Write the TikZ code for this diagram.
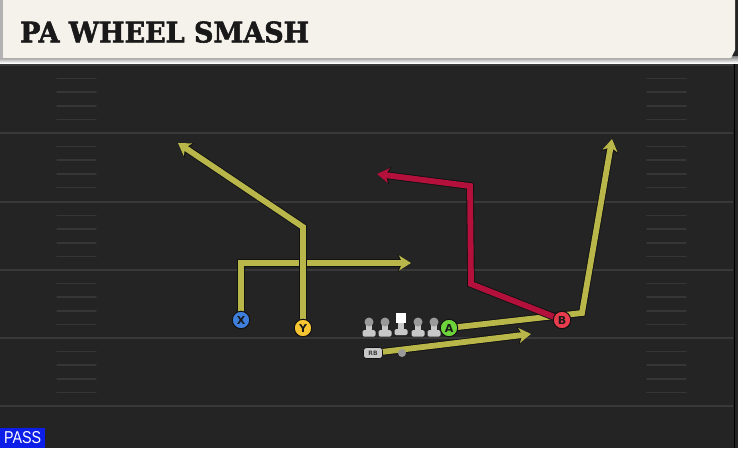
\documentclass[tikz,border=0pt]{standalone}
\usepackage{fontspec}
\usepackage{graphicx}
\setmainfont{DejaVu Sans}
\newfontfamily\titlefont{DejaVu Serif}[BoldFeatures={FakeBold=2}]
\newfontfamily\passfont{Liberation Sans}
\usetikzlibrary{arrows.meta}
\definecolor{field}{HTML}{242424}
\definecolor{yardc}{HTML}{393939}
\definecolor{hashc}{HTML}{363636}
\definecolor{cream}{HTML}{F5F2EB}
\definecolor{shade}{HTML}{1A1A1A}
\definecolor{routeY}{HTML}{B9B64A}
\definecolor{routeR}{HTML}{B3103C}
\definecolor{outl}{HTML}{121212}
\definecolor{plX}{HTML}{3D7FDB}
\definecolor{plY}{HTML}{F7C531}
\definecolor{plA}{HTML}{6DD33B}
\definecolor{plB}{HTML}{E83B4B}
\definecolor{lmgrey}{HTML}{C8C8C8}
\definecolor{lmhead}{HTML}{9A9A9A}
\definecolor{passblue}{HTML}{0C1EE8}
\tikzset{
  yard/.style={draw=yardc, line width=2pt},
  hash/.style={draw=hashc, line width=1.5pt, line cap=round},
  route/.style={line width=5.8pt,
    -{Stealth[length=12pt,width=15pt,inset=3.5pt]},
    preaction={draw=outl, line width=7.6pt, -{Stealth[length=13.5pt,width=17.5pt,inset=3.5pt]}}},
  yroute/.style={route, draw=routeY},
  rroute/.style={route, draw=routeR},
  player/.style={circle, draw=outl, line width=1pt, minimum size=17.5pt, inner sep=0pt,
    font=\fontsize{11}{11}\selectfont\bfseries, text=black!90},
  lineman/.pic={
    \fill[lmgrey, rounded corners=1.5pt] (-6.5,8) rectangle (6.5,14.5);
    \fill[lmgrey] (-3,0) rectangle (3,9);
    \fill[lmhead] (0,0) circle (4.5);
  },
  centerman/.pic={
    \fill[lmgrey, rounded corners=1.5pt] (-6.5,7) rectangle (6.5,13);
    \fill[lmgrey] (-3,0) rectangle (3,8);
    \fill[white] (-5,-9.5) rectangle (5,1);
  }
}
\begin{document}
\begin{tikzpicture}[x=1pt,y=-1pt]
\useasboundingbox (0,0) rectangle (738,448);
\fill[field] (0,0) rectangle (738,448);
% yard lines and hashes
\foreach \yy in {65,133,202,270,338,406} \draw[yard] (0,\yy) -- (733,\yy);
\foreach \yy in {65,133,202,270,338} \foreach \k in {1,...,4} {
  \draw[hash] (57,{\yy+13.6*\k}) -- (96,{\yy+13.6*\k});
  \draw[hash] (647,{\yy+13.6*\k}) -- (686,{\yy+13.6*\k});
}
\draw[shade, line width=1.5pt] (734.5,58) -- (734.5,448);
% title bar
\fill[shade] (0,56) rectangle (738,63);
\fill[cream] (0,0) -- (735,0) -- (735,50) -- (731,58) -- (0,58) -- cycle;
\fill[gray!60] (0,0) rectangle (3,58);
\node[anchor=south west, inner sep=0pt, text=black!90] (title) at (20,43)
  {\resizebox{289pt}{21pt}{\titlefont\bfseries PA WHEEL SMASH}};
% pass tag
\node[anchor=south west, fill=passblue, minimum width=45pt, minimum height=20pt, inner sep=0pt, text=white] (pass) at (0,448)
  {\resizebox{37pt}{12pt}{\passfont PASS}};
% player positions
\coordinate (pX) at (241,320);
\coordinate (pY) at (303,328);
\coordinate (pA) at (449,328);
\coordinate (pB) at (562,320);
\coordinate (xc) at (241,263);
\coordinate (xe) at (411,263);
\coordinate (yc) at (303,227);
\coordinate (ye) at (178,143);
\coordinate (ac) at (582,313);
\coordinate (ae) at (612,139);
\coordinate (b1) at (471,284);
\coordinate (b2) at (470,186);
\coordinate (be) at (377,174);
\coordinate (re) at (531,334);
\coordinate (pRB) at (373,353);
% routes
\draw[yroute] (pX) -- (xc) -- (xe);
\draw[yroute] (pY) -- (yc) -- (ye);
\draw[yroute] (pA) -- (ac) -- (ae);
\draw[rroute] (pB) -- (b1) -- (b2) -- (be);
\draw[yroute] (pRB) -- (re);
% backfield
\node[fill=lmgrey, draw=outl, line width=0.6pt, rounded corners=3pt, minimum width=19pt, minimum height=11pt,
  inner sep=0pt, font=\fontsize{6}{6}\selectfont\bfseries, text=black!75] (RB) at (pRB) {RB};
\node[circle, fill=lmhead, minimum size=8pt, inner sep=0pt] (QB) at (402,353) {};
% linemen
\pic (LT) at (369,322) {lineman};
\pic (LG) at (385,322) {lineman};
\pic (C) at (401,322) {centerman};
\pic (RG) at (418,322) {lineman};
\pic (RT) at (434,322) {lineman};
% players
\node[player, fill=plX] (X) at (pX) {X};
\node[player, fill=plY] (Y) at (pY) {Y};
\node[player, fill=plA] (A) at (pA) {A};
\node[player, fill=plB] (B) at (pB) {B};
\end{tikzpicture}
\end{document}
